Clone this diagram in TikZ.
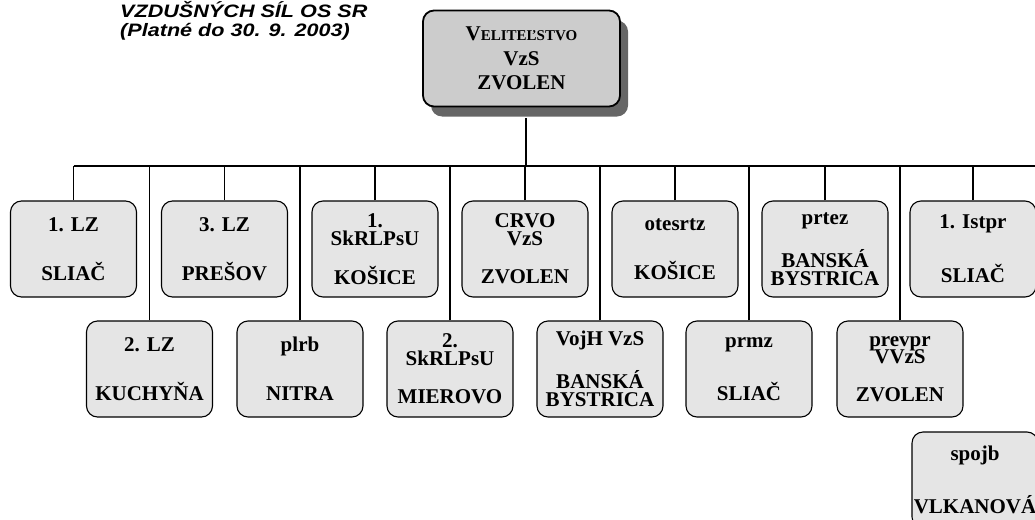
\documentclass[tikz,border=0pt]{standalone}
\usepackage{fontspec}
\setmainfont{Liberation Serif}
\newfontfamily\titlefont{Liberation Sans}
\usetikzlibrary{shadows}

\definecolor{unitgray}{gray}{0.9}
\definecolor{hqgray}{gray}{0.8}
\definecolor{shadowgray}{gray}{0.4}

\tikzset{
  unit/.style={draw, line width=1.1pt, rounded corners=11pt, fill=unitgray,
    minimum width=126pt, minimum height=96pt, inner sep=0pt, align=center,
    font=\bfseries\fontsize{21}{18}\selectfont},
  hq/.style={unit, line width=1.8pt, fill=hqgray, minimum width=197pt,
    drop shadow={shadow xshift=8pt, shadow yshift=-10pt, fill=shadowgray, opacity=1}},
  heading/.style={anchor=base west, inner sep=0pt,
    font=\titlefont\bfseries\itshape\fontsize{18}{19}\selectfont},
  link/.style={line width=1.1pt}
}

\begin{document}
\begin{tikzpicture}[x=1pt, y=-1pt]

\useasboundingbox (0,0) rectangle (1035,519);

% title
\node[heading] (title1) at (120,18) {\scalebox{1.2}[1]{VZDUŠNÝCH SÍL OS SR}};
\node[heading] (title2) at (120,37) {\scalebox{1.2}[1]{(Platné do 30. 9. 2003)}};

% headquarters
\node[hq] (hq) at (521.5,58.5) {{\fontsize{21}{18}\selectfont V}{\fontsize{15}{18}\selectfont ELITEĽSTVO}\\[6.5pt]VzS\\[6.5pt]ZVOLEN};

% upper row
\node[unit] (lz1)    at (73.5,249) {1. LZ\\[30pt]SLIAČ};
\node[unit] (lz3)    at (224.5,249) {3. LZ\\[30pt]PREŠOV};
\node[unit] (skr1)   at (375,249) {1.\\SkRLPsU\\[20pt]KOŠICE};
\node[unit] (crvo)   at (525,249) {CRVO\\VzS\\[20pt]ZVOLEN};
\node[unit] (otes)   at (675,249) {otesrtz\\[30pt]KOŠICE};
\node[unit] (prtez)  at (825,249) {prtez\\[20pt]BANSKÁ\\BYSTRICA};
\node[unit] (istpr)  at (973,249) {1. Istpr\\[30pt]SLIAČ};

% lower row
\node[unit] (lz2)    at (149.5,369) {2. LZ\\[30pt]KUCHYŇA};
\node[unit] (plrb)   at (300,369) {plrb\\[30pt]NITRA};
\node[unit] (skr2)   at (450,369) {2.\\SkRLPsU\\[20pt]MIEROVO};
\node[unit] (vojh)   at (600,369) {VojH VzS\\[20pt]BANSKÁ\\BYSTRICA};
\node[unit] (prmz)   at (749,369) {prmz\\[30pt]SLIAČ};
\node[unit] (prevpr) at (900,369) {prevpr\\[-3pt]VVzS\\[20pt]ZVOLEN};

\node[unit] (spojb)  at (975,480) {spojb\\[30pt]VLKANOVÁ};

% bus
\coordinate (busL) at (73.5,166);
\coordinate (busR) at (1035,166);
\draw[link] (busL) -- (busR);
\draw[link] ([shift={(4.5pt,-11pt)}]hq.south) -- ([xshift=4.5pt]hq.south |- busL);

\foreach \u in {lz1,lz3,skr1,crvo,otes,prtez,istpr,lz2,plrb,skr2,vojh,prmz,prevpr}
  \draw[link] (\u.north) -- (\u.north |- busL);

\end{tikzpicture}
\end{document}
